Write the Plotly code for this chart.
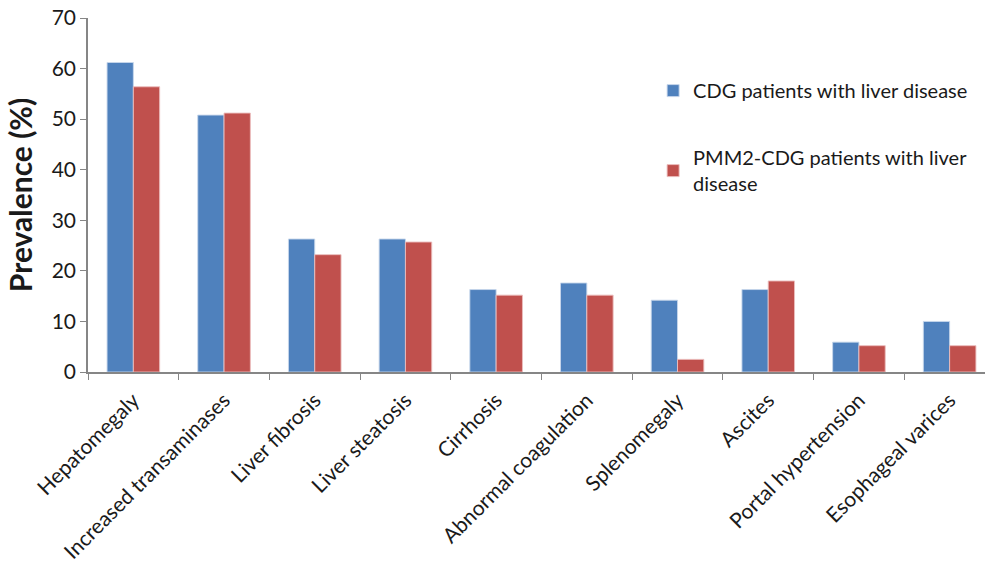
import plotly.graph_objects as go

categories = [
    "Hepatomegaly", "Increased transaminases", "Liver fibrosis", "Liver steatosis",
    "Cirrhosis", "Abnormal coagulation", "Splenomegaly", "Ascites",
    "Portal hypertension", "Esophageal varices",
]
cdg_liver = [61.2, 50.8, 26.3, 26.3, 16.3, 17.6, 14.2, 16.3, 5.9, 10.0]
pmm2_liver = [56.4, 51.2, 23.2, 25.7, 15.2, 15.2, 2.5, 18.0, 5.2, 5.2]

series_names = [
    "CDG patients with liver disease",
    "PMM2-CDG patients with liver<br>disease",
]
y_ticks = [0, 10, 20, 30, 40, 50, 60, 70]

FONT = "Lato, 'Open Sans', sans-serif"
TEXT = "#1a1a1a"
AXIS = "#868686"

fig = go.Figure()
fig.add_trace(go.Bar(
    x=categories, y=cdg_liver, name=series_names[0], legendgroup="a",
    marker=dict(color="#4F81BD", line=dict(color="rgba(200,215,235,0.9)", width=1)),
))
fig.add_trace(go.Bar(
    x=categories, y=pmm2_liver, name=series_names[1], legendgroup="b",
    marker=dict(color="#C0504D", line=dict(color="rgba(235,190,190,0.9)", width=1)),
))

fig.update_layout(
    width=985, height=566,
    margin=dict(l=88, r=0, t=18, b=194),
    paper_bgcolor="white", plot_bgcolor="white",
    barmode="group", bargap=0.42, bargroupgap=0,
    font=dict(family=FONT, color=TEXT, size=21),
    showlegend=True,
    legend=dict(
        x=0.63, y=0.85, xanchor="left", yanchor="top",
        font=dict(size=20, color=TEXT, family=FONT),
        tracegroupgap=38, traceorder="grouped",
        bgcolor="rgba(0,0,0,0)", itemwidth=30,
    ),
    xaxis=dict(
        type="category", range=[-0.5, 9.39],
        tickangle=-45, tickson="boundaries",
        ticks="outside", ticklen=6, tickcolor=AXIS, tickwidth=1,
        ticklabelstandoff=6,
        showline=True, linecolor=AXIS, linewidth=1.5,
        showgrid=False, tickfont=dict(size=21, color=TEXT),
    ),
    yaxis=dict(
        range=[0, 70], tickvals=y_ticks,
        ticks="outside", ticklen=6, tickcolor=AXIS, tickwidth=1,
        showline=True, linecolor=AXIS, linewidth=1.5,
        showgrid=False, zeroline=False,
        tickfont=dict(size=21, color=TEXT),
        title=dict(text="<b>Prevalence (%)</b>", font=dict(size=30, color=TEXT), standoff=10),
    ),
)

fig.write_html("out.html")
